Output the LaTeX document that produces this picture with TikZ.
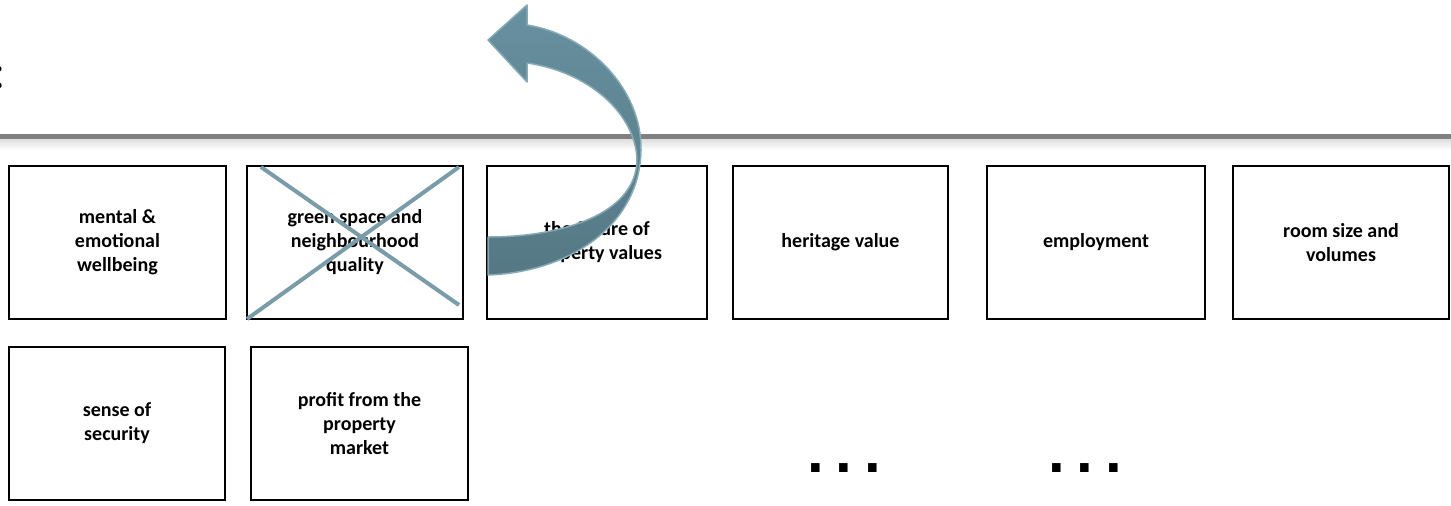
\documentclass[tikz,border=0pt]{standalone}
\usepackage{fontspec}
\setmainfont{Carlito}
\newfontfamily\dotfont{Liberation Sans}
\usetikzlibrary{calc}
\definecolor{arrowtop}{HTML}{6890A0}
\definecolor{arrowbot}{HTML}{557884}
\definecolor{arrowedge}{HTML}{86ABB5}
\definecolor{crosscol}{HTML}{7A9BA8}
\definecolor{rulecol}{HTML}{808080}
\begin{document}
\begin{tikzpicture}[x=0.5pt,y=-0.5pt,
  box/.style={draw=black,line width=1pt,minimum height=76.5pt,inner sep=0pt,align=center,
    font=\bfseries\fontsize{10}{12}\selectfont},
  crossline/.style={draw=crosscol,line width=2pt},
  dots/.style={inner sep=0pt,anchor=base,font=\dotfont\bfseries\fontsize{30}{36}\selectfont},
  bigarrow/.style={top color=arrowtop,bottom color=arrowbot,draw=arrowedge,line width=0.75pt,line join=round}]
\useasboundingbox (0,0) rectangle (1451,505);
% partial colon at the left edge
\node[inner sep=0pt,anchor=base east,font=\fontsize{25}{30}\selectfont] (colon) at (6,88) {:};
% separator rule
\fill[top color=black!14,bottom color=white] (0,138) rectangle (1451,150);
\coordinate (ruleL) at (0,136);
\coordinate (ruleR) at (1451,136);
\draw[rulecol,line width=2.5pt] (ruleL) -- (ruleR);
% row 1
\node[box,minimum width=108.5pt] (b1) at (117.5,242.5) {mental \&\\emotional\\wellbeing};
\node[box,minimum width=108pt] (b2) at (355,242.5) {green space and\\neighbourhood\\quality};
\node[box,minimum width=110pt] (b3) at (597,242.5) {the future of\\property values};
\node[box,minimum width=107.5pt] (b4) at (840.5,242.5) {heritage value};
\node[box,minimum width=109pt] (b5) at (1096,242.5) {employment};
\node[box,minimum width=108pt] (b6) at (1341,242.5) {room size and\\volumes};
% row 2
\node[box,minimum width=108pt] (b7) at (117,423.5) {sense of\\security};
\node[box,minimum width=108.5pt] (b8) at (359.5,423.5) {profit from the\\property\\market};
% ellipses
\node[dots] (d1) at (844,472) {.\hspace{5.9pt}.\hspace{5.9pt}.};
\node[dots] (d2) at (1085,472) {.\hspace{5.9pt}.\hspace{5.9pt}.};
% cross over box 2
\coordinate (c1) at ($(b2.north west)+(15,2)$);
\coordinate (c2) at ($(b2.south east)+(-5,-15)$);
\coordinate (c3) at ($(b2.north east)+(-5,2)$);
\coordinate (c4) at ($(b2.south west)+(1,-1)$);
\draw[crossline] (c1) -- (c2);
\draw[crossline] (c3) -- (c4);
% curved block arrow
\path[bigarrow] (488,237) -- (488,275)
  .. controls (570,272) and (640,225) .. (641,150)
  .. controls (642,90) and (590,35) .. (527,25)
  -- (527,5) -- (488,40) -- (527,82) -- (527,63)
  .. controls (590,72) and (636,115) .. (637,160)
  .. controls (636,215) and (560,237) .. (488,237) -- cycle;
\end{tikzpicture}
\end{document}
